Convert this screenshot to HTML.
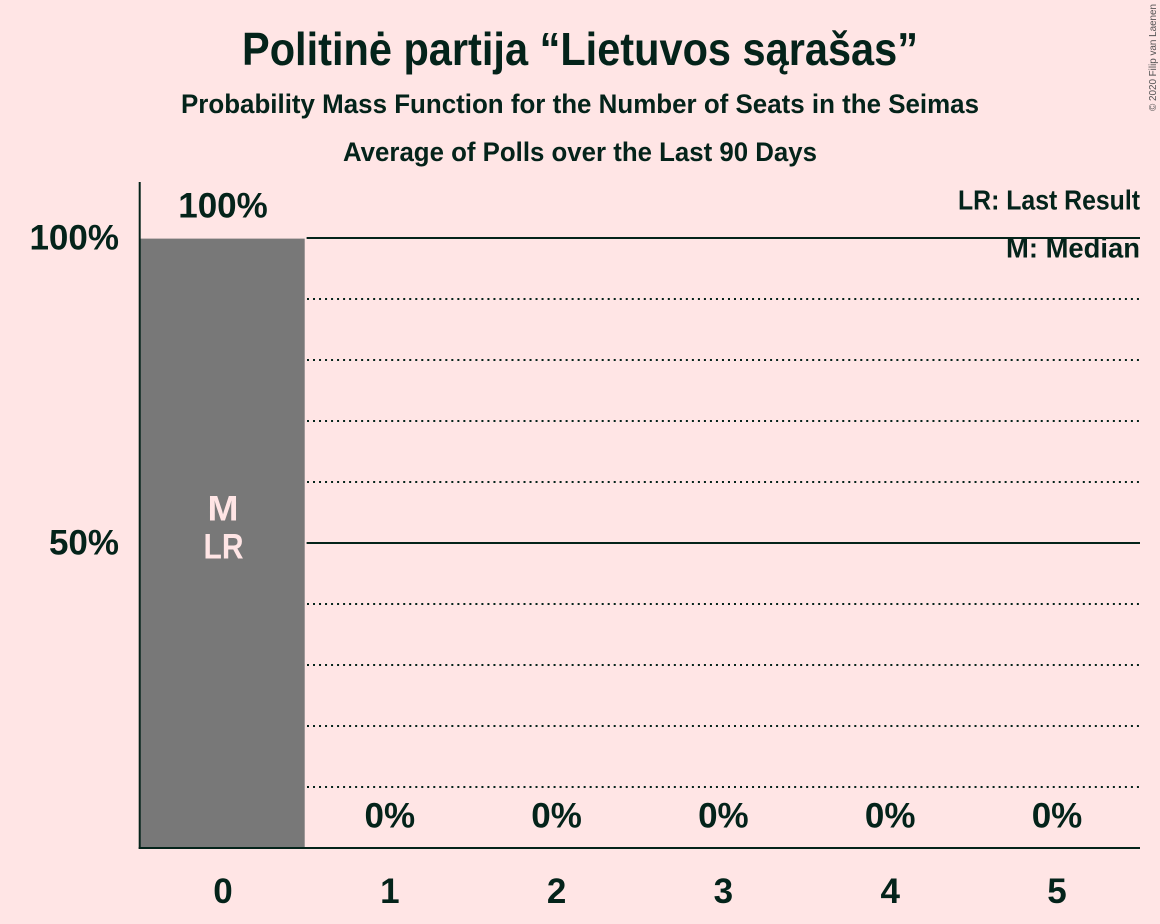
<!DOCTYPE html>
<html lang="lt">
<head>
<meta charset="utf-8">
<title>Politinė partija “Lietuvos sąrašas”</title>
<style>
html,body{margin:0;padding:0;background:#FFE5E5;}
svg{display:block;}
text{font-family:"Liberation Sans",sans-serif;font-weight:bold;fill:#04231A;}
</style>
</head>
<body>
<svg id="chart" xmlns="http://www.w3.org/2000/svg" width="1160" height="924" viewBox="0 0 1160 924">
  <rect x="0" y="0" width="1160" height="924" fill="#FFE5E5"/>
  <text x="242" y="65" font-size="46" textLength="676" lengthAdjust="spacingAndGlyphs">Politinė partija “Lietuvos sąrašas”</text>
  <text x="181" y="113" font-size="27" textLength="798" lengthAdjust="spacingAndGlyphs">Probability Mass Function for the Number of Seats in the Seimas</text>
  <text x="343" y="161" font-size="27" textLength="474" lengthAdjust="spacingAndGlyphs">Average of Polls over the Last 90 Days</text>
  <text transform="translate(1156 111) rotate(-90)" font-size="10" textLength="107" lengthAdjust="spacingAndGlyphs" style="font-weight:normal;fill:#555555">© 2020 Filip van Laenen</text>
  <g id="grid"></g>
  <g id="bars"></g>
  <g id="labels"></g>
  <g id="axes"></g>
  <text x="958" y="209.5" font-size="27.5" textLength="182" lengthAdjust="spacingAndGlyphs">LR: Last Result</text>
  <text x="1006" y="257.5" font-size="27.5" textLength="134" lengthAdjust="spacingAndGlyphs">M: Median</text>
  <text x="223" y="520.5" font-size="35" text-anchor="middle" textLength="31" lengthAdjust="spacingAndGlyphs" style="fill:#FFE5E5">M</text>
  <text x="223.5" y="558.5" font-size="35" text-anchor="middle" textLength="40" lengthAdjust="spacingAndGlyphs" style="fill:#FFE5E5">LR</text>
</svg>
<script>
var seatCategories = ["0", "1", "2", "3", "4", "5"];
var seatProbabilities = [99.9, 0, 0, 0, 0, 0];
var valueLabels = ["100%", "0%", "0%", "0%", "0%", "0%"];
var yTickValues = [50, 100];
var yTickLabels = ["50%", "100%"];
var dottedGridValues = [10, 20, 30, 40, 60, 70, 80, 90];
var solidGridValues = [50, 100];

var NS = "http://www.w3.org/2000/svg";
var plotLeft = 140, plotRight = 1140, plotBottom = 848, plotTop = 182;
var slotWidth = 166.8, barWidth = 164.4, pxPerPercent = 6.1;

function xCenter(i) { return plotLeft + slotWidth * (i + 0.5) - 0.4; }
function yScale(v) { return plotBottom - v * pxPerPercent; }
function make(tag, attrs, parent, txt) {
  var el = document.createElementNS(NS, tag);
  for (var k in attrs) { el.setAttribute(k, attrs[k]); }
  if (txt !== undefined) { el.textContent = txt; }
  parent.appendChild(el);
  return el;
}

var gridG = document.getElementById("grid");
var barsG = document.getElementById("bars");
var labelsG = document.getElementById("labels");
var axesG = document.getElementById("axes");
var gridStart = plotLeft + slotWidth - 0.2;

dottedGridValues.forEach(function (v) {
  var el = make("line", {x1: gridStart + 0.4, x2: plotRight, y1: yScale(v), y2: yScale(v), stroke: "#04231A", "stroke-width": 2, "stroke-dasharray": "2 4.014"}, gridG);
  
  
});
solidGridValues.forEach(function (v) {
  var el = make("line", {x1: gridStart, x2: plotRight, y1: yScale(v), y2: yScale(v), stroke: "#04231A", "stroke-width": 2}, gridG);
  
  
});

seatProbabilities.forEach(function (v, i) {
  var el = make("rect", {x: xCenter(i) - 0.5 - barWidth / 2, y: yScale(v), width: barWidth, height: plotBottom - yScale(v), fill: "#787878"}, barsG);
  
  
  var labelY = v > 50 ? yScale(v) - 21 : plotBottom - 20.5;
  var lab = make("text", {x: xCenter(i), y: labelY, "font-size": 35, "text-anchor": "middle"}, labelsG, valueLabels[i]);
  
  
  var tick = make("text", {x: xCenter(i), y: 903, "font-size": 35, "text-anchor": "middle"}, axesG, seatCategories[i]);
  
  
});

yTickValues.forEach(function (v, i) {
  var el = make("text", {x: 119, y: yScale(v) + 11.5, "font-size": 35, "text-anchor": "end"}, axesG, yTickLabels[i]);
  
  
});

var yAxis = make("line", {x1: plotLeft - 0.3, x2: plotLeft - 0.3, y1: plotTop, y2: plotBottom + 1, stroke: "#04231A", "stroke-width": 2}, axesG);


var xAxis = make("line", {x1: plotLeft - 1.3, x2: plotRight, y1: plotBottom, y2: plotBottom, stroke: "#04231A", "stroke-width": 2}, axesG);


</script>
</body>
</html>
